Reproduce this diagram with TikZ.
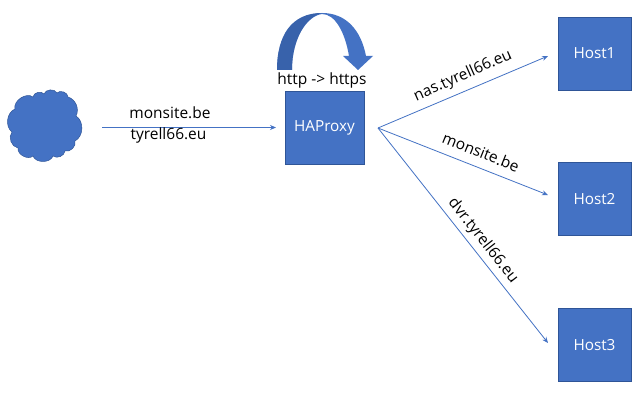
\documentclass[tikz,border=0pt]{standalone}
\usepackage{fontspec}
\setmainfont{Open Sans}
\usetikzlibrary{arrows.meta}
\definecolor{boxblue}{HTML}{4472C4}
\definecolor{edgeblue}{HTML}{2F5597}
\definecolor{darkblue}{HTML}{2F5597}
\tikzset{
  hostbox/.style={draw=edgeblue,line width=0.4pt,fill=boxblue,text=white,minimum width=73pt,minimum height=73pt,inner sep=0pt,font=\fontsize{15.3}{17}\selectfont},
  lbl/.style={text=black,inner sep=0pt,font=\fontsize{15.5}{17}\selectfont},
  conn/.style={draw=boxblue,line width=0.8pt,-{Stealth[length=6pt,width=5pt]}}
}
\begin{document}
\begin{tikzpicture}[x=1pt,y=-1pt]
\useasboundingbox[fill=white] (0,0) rectangle (641,401);
% cloud
\draw[fill=boxblue,draw=edgeblue,line width=0.5pt]
 (15,109) to[bend left=70] (33,97) to[bend left=70] (44,94) to[bend left=70] (57,93)
 to[bend left=70] (68,97) to[bend left=50] (76,116) to[bend left=60] (75,141)
 to[bend left=60] (65,151) to[bend left=60] (53,156) to[bend left=70] (33,156)
 to[bend left=70] (18,148) to[bend left=60] (12,132) to[bend left=60] (15,109) -- cycle;
\path (43,127) node[inner sep=0pt,minimum size=1pt] (cloud) {};
% curved arrow
\fill[boxblue] (277,70) .. controls (277,35) and (292,13) .. (322,13)
  .. controls (346,13) and (361,30) .. (366,56) -- (373,56) -- (358,70) -- (343,56) -- (349,56)
  .. controls (345,32) and (335,14) .. (322,14)
  .. controls (307,16) and (292,38) .. (292,70) -- cycle;
\fill[darkblue,opacity=.55] (277,70) .. controls (277,35) and (292,13) .. (322,13)
  .. controls (307,16) and (292,38) .. (292,70) -- cycle;
% boxes
\node[hostbox,minimum width=79pt] (ha) at (324.5,127.5) {HAProxy};
\node[hostbox] (h1) at (594.5,53.5) {Host1};
\node[hostbox] (h2) at (594.5,199) {Host2};
\node[hostbox] (h3) at (594.5,345) {Host3};
% connector ends
\coordinate (a) at (102,127.5);
\coordinate (b) at (276,127.5);
\coordinate (s) at (378,128);
\coordinate (e1) at (548,56);
\coordinate (e2) at (548,195);
\coordinate (e3) at (548,343);
\draw[conn] (a) -- (b);
\draw[conn] (s) -- (e1);
\draw[conn] (s) -- (e2);
\draw[conn] (s) -- (e3);
% labels
\node[lbl] (t1) at (170,113) {monsite.be};
\node[lbl] (t2) at (168.5,135) {tyrell66.eu};
\node[lbl] (t3) at (322,80) {http -> https};
\node[lbl,rotate=24] (t4) at (463,76) {nas.tyrell66.eu};
\node[lbl,rotate=-22] (t5) at (481,152) {monsite.be};
\node[lbl,rotate=-52] (t6) at (483,241) {dvr.tyrell66.eu};
\end{tikzpicture}
\end{document}
